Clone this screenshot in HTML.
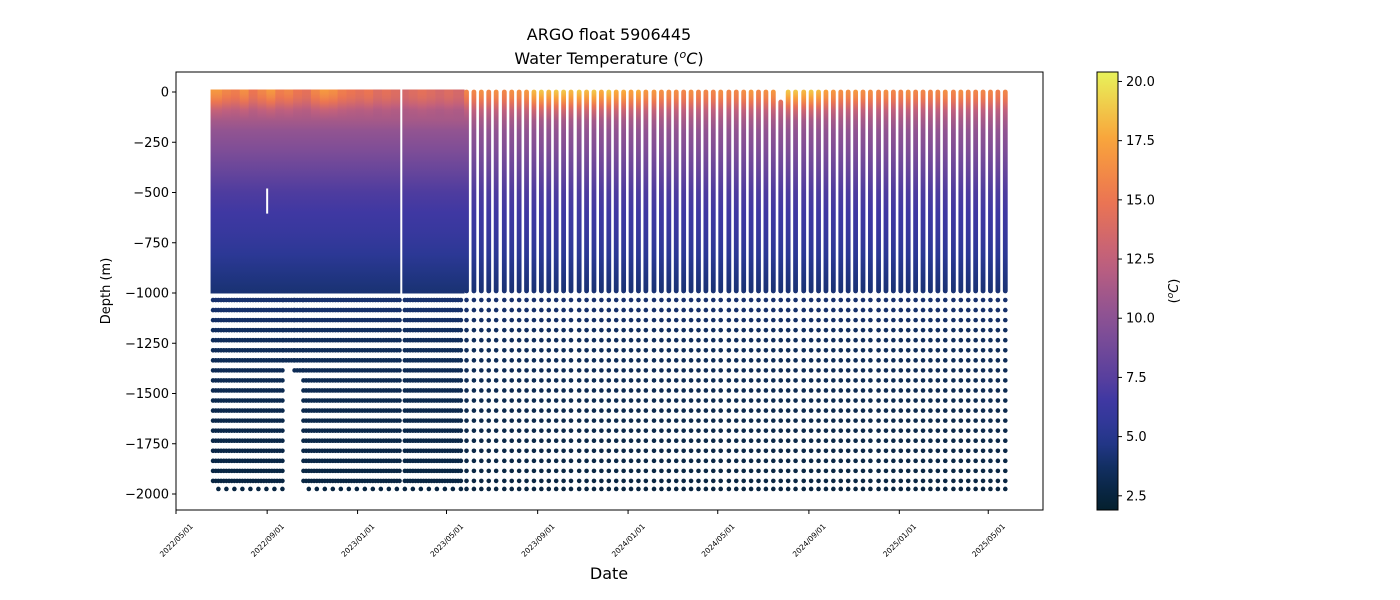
<!DOCTYPE html>
<html><head><meta charset="utf-8"><style>
html,body{margin:0;padding:0;background:#fff;}
svg{display:block;font-family:"DejaVu Sans","Liberation Sans",sans-serif;}
</style></head><body>
<svg id="chart" width="1400" height="600" xmlns="http://www.w3.org/2000/svg">
<defs id="defs"></defs>
<text x="609" y="40" font-size="16" text-anchor="middle">ARGO float 5906445</text>
<text x="609" y="64" font-size="16" text-anchor="middle">Water Temperature (<tspan font-size="11" dy="-6" font-style="italic">o</tspan><tspan dy="6" font-style="italic">C</tspan>)</text>
<g id="plot"></g>
<rect x="176" y="72" width="867" height="438" fill="none" stroke="#000" stroke-width="1"/>
<g id="yaxis"></g>
<g id="xaxis"></g>
<text transform="translate(110,291) rotate(-90)" font-size="13" text-anchor="middle">Depth (m)</text>
<text x="609" y="579" font-size="16" text-anchor="middle">Date</text>
<g id="cbar"></g>
<text transform="translate(1178,291) rotate(-90)" font-size="13" text-anchor="middle">(<tspan font-size="9" dy="-5" font-style="italic">o</tspan><tspan dy="5" font-style="italic">C</tspan>)</text>
</svg>
<script>
// ---- data ----
const depthLevels = [0,30,60,100,150,200,300,400,500,600,700,800,900,1000,1100,1200,1400,1600,1800,2000];
const depthTemps  = [16.2,15.8,14.5,12.5,11.2,10.3,9.3,8.2,7.1,6.5,6.0,5.3,4.6,4.1,3.9,3.6,3.3,3.0,2.8,2.6];
const deepLevels = [1035,1085,1135,1185,1235,1285,1335,1385,1435,1485,1535,1585,1635,1685,1735,1785,1835,1885,1935,1975];
// dense sampling period (continuous profiles): [startDay, endDay, maxDepth]
const denseSegments = [[50,145,2000],[145,160,1350],[160,172,1420],[172,386,2000]];
const denseGapDay = 304;
// spaced profiles (days since 2022-05-01)
const profileDays = [392,402,412,422,432,443,453,463,473,483,493,503,513,523,533,544,554,564,574,584,594,604,614,624,634,645,655,665,675,685,695,705,715,725,735,746,756,766,776,786,796,806,816,826,836,847,857,867,877,887,897,907,917,927,937,948,958,968,978,988,998,1008,1018,1028,1038,1049,1059,1069,1079,1089,1099,1109,1119];
const profileSurfT = [16,16,16.5,16,16.5,16,16.5,16.5,17,18.5,19,18.5,19,19,18.5,19,18.5,19,18,19,18,18,17.5,18,17,17,16.5,16.5,16.5,16,16.5,16,16,16,16.5,16,16,16.5,17,16,16.5,17,16,19,19,18.5,19,18.5,17.5,17,16.5,16.5,17,16.5,16.5,16,16.5,16,16,16.5,16,16,16,16,16.5,16,16.5,16,16,16,16,15.5,16];
const profileTopDepth = [0,0,0,0,0,0,0,0,0,0,0,0,0,0,0,0,0,0,0,0,0,0,0,0,0,0,0,0,0,0,0,0,0,0,0,0,0,0,0,0,0,0,50,0,0,0,0,0,0,0,0,0,0,0,0,0,0,0,0,0,0,0,0,0,0,0,0,0,0,0,0,0,0];
const denseStripeTemps = [17,16,15.5,16.5,15,16,17,15.5,16,15,14.5,16,17,16.5,15.5,15,14.5,15,14,14.5,14,13.5,14,14.5,14,13.5,14,13.5];
const yTicks = [0,-250,-500,-750,-1000,-1250,-1500,-1750,-2000];
const xTickLabels = ["2022/05/01","2022/09/01","2023/01/01","2023/05/01","2023/09/01","2024/01/01","2024/05/01","2024/09/01","2025/01/01","2025/05/01"];
const xTickDays = [0,123,245,365,488,610,731,854,976,1096];
const cbarTicks = [2.5,5.0,7.5,10.0,12.5,15.0,17.5,20.0];

// ---- scales ----
const NS="http://www.w3.org/2000/svg";
const X = d => 176 + d*0.7411;
const Y = z => 92 + (-z)*0.201;
const TMIN=1.9, TMAX=20.4;
const cmap=[[0,[4,32,46]],[0.087,[14,45,90]],[0.168,[40,56,146]],[0.249,[63,56,162]],[0.3,[87,63,158]],[0.438,[139,82,148]],[0.573,[194,96,124]],[0.708,[236,117,81]],[0.843,[249,162,59]],[1,[232,242,90]]];
function color(t){let f=(t-TMIN)/(TMAX-TMIN);f=Math.max(0,Math.min(1,f));
 for(let i=1;i<cmap.length;i++){if(f<=cmap[i][0]){const a=cmap[i-1],b=cmap[i];const u=(f-a[0])/(b[0]-a[0]);
 const c=a[1].map((v,k)=>Math.round(v+(b[1][k]-v)*u));return `rgb(${c[0]},${c[1]},${c[2]})`;}}return 'rgb(232,242,90)';}
function curveT(d){for(let i=1;i<depthLevels.length;i++){if(d<=depthLevels[i]){const u=(d-depthLevels[i-1])/(depthLevels[i]-depthLevels[i-1]);return depthTemps[i-1]+(depthTemps[i]-depthTemps[i-1])*u;}}return depthTemps[depthTemps.length-1];}
function profT(d,surf){return curveT(d)+(surf-depthTemps[0])*Math.max(0,1-d/150);}
function el(tag,attrs,parent){const e=document.createElementNS(NS,tag);for(const k in attrs)e.setAttribute(k,attrs[k]);parent.appendChild(e);return e;}
const defs=document.getElementById('defs'), plot=document.getElementById('plot');
function makeGrad(id,surf,top){const g=el('linearGradient',{id:id,x1:0,y1:0,x2:0,y2:1},defs);
 const stops=[0,20,40,60,80,100,150,200,300,400,500,600,700,800,900,990];
 stops.forEach(d=>{if(d<top)return;el('stop',{offset:((d-top)/(990-top)).toFixed(3),'stop-color':color(profT(d,surf))},g);});}

// dense upper band, as stripes
const dStart=denseSegments[0][0], dEnd=denseSegments[denseSegments.length-1][1];
const nS=denseStripeTemps.length, sw=(dEnd-dStart)/nS;
denseStripeTemps.forEach((st,i)=>{
 makeGrad('gd'+i,st,0);
 const x0=X(dStart+i*sw)-(i==0?2.5:0), x1=X(dStart+(i+1)*sw)+(i==nS-1?2.5:0.5);
 const r=el('rect',{x:x0,y:Y(0)-2.5,width:x1-x0,height:Y(-990)-Y(0)+5,fill:`url(#gd${i})`},plot);
 
 
});
const gapLine=el('rect',{x:X(denseGapDay)-1,y:Y(0)-3,width:2,height:Y(-1000)-Y(0)+6,fill:'#fff'},plot);


const flag=el('rect',{x:X(123)-1,y:Y(-480),width:2,height:Y(-605)-Y(-480),fill:'#fff'},plot);


// dense deep dots
denseSegments.forEach(seg=>{
 let n=0;
 for(let day=seg[0]; day<seg[1]; day+=3.6){
  n++;
  if(Math.abs(day-denseGapDay)<1.5)continue;
  deepLevels.forEach((z,li)=>{if(z>seg[2])return;
   if(li==deepLevels.length-1 && n%3!=0)return;
   const c=el('circle',{cx:X(day),cy:Y(-z),r:2.3,fill:color(curveT(z))},plot);
   
   
  });
 }
});
// spaced profiles
profileDays.forEach((day,i)=>{
 const top=profileTopDepth[i];
 makeGrad('gp'+i,profileSurfT[i],top);
 const r=el('rect',{x:X(day)-2.4,y:Y(-top)-2.4,width:4.8,height:Y(-990)-Y(-top)+4.8,rx:2.4,fill:`url(#gp${i})`},plot);
 
 
 deepLevels.forEach(z=>{
  const c=el('circle',{cx:X(day),cy:Y(-z),r:2.3,fill:color(curveT(z))},plot);
  
  
 });
});

// y axis
const ya=document.getElementById('yaxis');
yTicks.forEach(v=>{const y=Y(v);
 el('line',{x1:172,x2:176,y1:y,y2:y,stroke:'#000'},ya);
 const t=el('text',{x:169,y:y+4.5,'font-size':13,'text-anchor':'end'},ya);t.textContent=String(v).replace('-','\u2212');
 
 
});
// x axis
const xa=document.getElementById('xaxis');
xTickLabels.forEach((lab,i)=>{const x=X(xTickDays[i]);
 el('line',{x1:x,x2:x,y1:510,y2:514,stroke:'#000'},xa);
 const t=el('text',{transform:`translate(${x},${540}) rotate(-45)`,'font-size':7.5,'text-anchor':'middle',dy:3},xa);t.textContent=lab;
 
 
});
// colorbar
const cb=document.getElementById('cbar');
const cg=el('linearGradient',{id:'gcb',x1:0,y1:1,x2:0,y2:0},defs);
for(let k=0;k<=20;k++){el('stop',{offset:k/20,'stop-color':color(TMIN+(TMAX-TMIN)*k/20)},cg);}
const cbr=el('rect',{x:1097,y:72,width:21,height:438,fill:'url(#gcb)',stroke:'#000','stroke-width':1},cb);


const CY=t=>510-(t-TMIN)/(TMAX-TMIN)*438;
cbarTicks.forEach(v=>{const y=CY(v);
 el('line',{x1:1118,x2:1122,y1:y,y2:y,stroke:'#000'},cb);
 const t=el('text',{x:1126,y:y+4.5,'font-size':13},cb);t.textContent=v.toFixed(1);
 
 
});
</script>
</body></html>
